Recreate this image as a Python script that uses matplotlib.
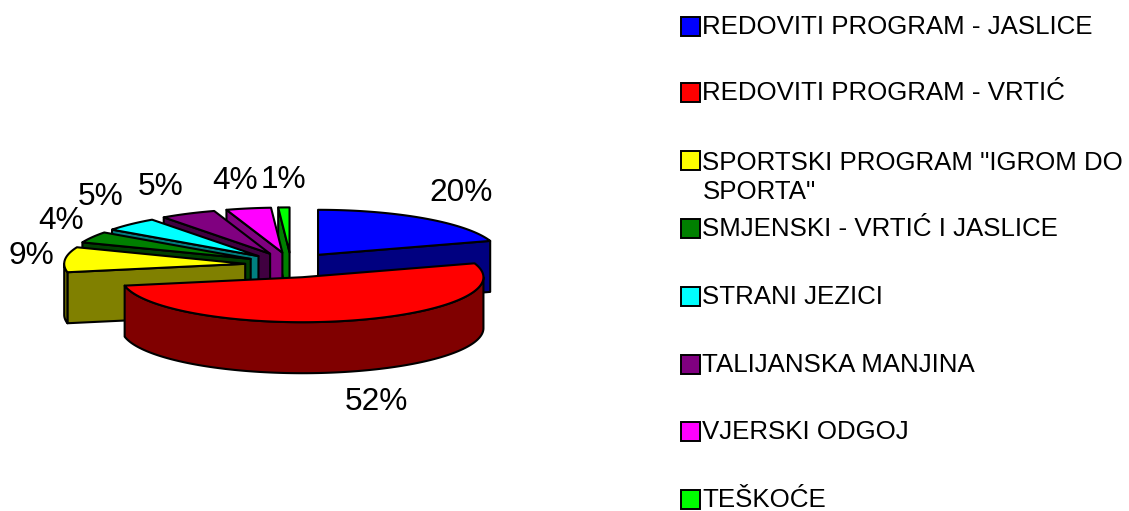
#!/usr/bin/env python3

"""Exploded 3D-look pie of kindergarten programmes with a side legend."""

import numpy as np
import matplotlib
matplotlib.use("Agg")
import matplotlib.pyplot as plt
from matplotlib.patches import Polygon, Rectangle

plt.rcParams["font.family"] = ["Liberation Sans", "DejaVu Sans"]

programs = [
    "REDOVITI PROGRAM - JASLICE",
    "REDOVITI PROGRAM - VRTIĆ",
    'SPORTSKI PROGRAM "IGROM DO\nSPORTA"',
    "SMJENSKI - VRTIĆ I JASLICE",
    "STRANI JEZICI",
    "TALIJANSKA MANJINA",
    "VJERSKI ODGOJ",
    "TEŠKOĆE",
]
shares = [20, 52, 9, 4, 5, 5, 4, 1]
colors = ["#0000FF", "#FF0000", "#FFFF00", "#008000", "#00FFFF", "#800080", "#FF00FF", "#00FF00"]
side_colors = ["#000080", "#800000", "#808000", "#004000", "#008080", "#400040", "#800080", "#008000"]

# layout, in pixels of the 1129x511 figure
CX, CY = 291, 265
RX, RY = 181, 45
DEPTH = 51
EXPLODE_X, EXPLODE_Y = 46, 12.6
label_xy = [(461, 193), (376, 402), (31, 256), (61, 221), (101, 197), (161, 187), (235, 181), (283, 180)]
legend_y = [27, 93, 161, 229, 297, 365, 432, 500]


def rim(x0, y0, a1, a2):
    t = np.radians(np.linspace(a1, a2, max(int(abs(a2 - a1)) * 2, 2)))
    return np.column_stack([x0 + RX * np.sin(t), y0 - RY * np.cos(t)])


def draw_wedge(ax, a1, a2, color, side):
    mid = np.radians((a1 + a2) / 2)
    x0 = CX + EXPLODE_X * np.sin(mid)
    y0 = CY - EXPLODE_Y * np.cos(mid)
    apex = np.array([x0, y0])
    drop = np.array([0, DEPTH])
    style = dict(edgecolor="black", linewidth=1.5, joinstyle="round")

    # radial side faces, only those turned to the viewer
    if np.sin(np.radians(a1)) < 0:
        p = rim(x0, y0, a1, a1)[0]
        ax.add_patch(Polygon([apex, p, p + drop, apex + drop], facecolor=side, **style))
    if np.sin(np.radians(a2)) > 0:
        p = rim(x0, y0, a2, a2)[0]
        ax.add_patch(Polygon([apex, p, p + drop, apex + drop], facecolor=side, **style))

    # outer rim, front half of the ellipse only
    lo, hi = max(a1, 90), min(a2, 270)
    if lo < hi:
        arc = rim(x0, y0, lo, hi)
        ax.add_patch(Polygon(np.vstack([arc, (arc + drop)[::-1]]), facecolor=side, **style))

    ax.add_patch(Polygon(np.vstack([apex, rim(x0, y0, a1, a2)]), facecolor=color, **style))


def main():
    fig = plt.figure(figsize=(11.29, 5.11), dpi=100)
    ax = fig.add_axes([0, 0, 1, 1])
    ax.set_xlim(0, 1129)
    ax.set_ylim(511, 0)
    ax.axis("off")

    edges = np.cumsum([0] + shares) / sum(shares) * 360
    wedges = list(zip(edges[:-1], edges[1:], colors, side_colors))
    # back to front
    wedges.sort(key=lambda w: -np.cos(np.radians((w[0] + w[1]) / 2)))
    for a1, a2, color, side in wedges:
        draw_wedge(ax, a1, a2, color, side)

    for share, (x, y) in zip(shares, label_xy):
        ax.text(x, y, f"{share}%", fontsize=22.8, ha="center", va="center", color="black")

    for name, color, y in zip(programs, colors, legend_y):
        ax.add_patch(Rectangle((680.5, y - 9.5), 19, 19, facecolor=color, edgecolor="black", linewidth=1.4))
        ax.text(702.5, y - 10 if "\n" in name else y, name, fontsize=18.65, ha="left",
                va="top" if "\n" in name else "center", color="black", linespacing=1.25)

    fig.savefig("out.png", dpi=100)


if __name__ == "__main__":
    main()
